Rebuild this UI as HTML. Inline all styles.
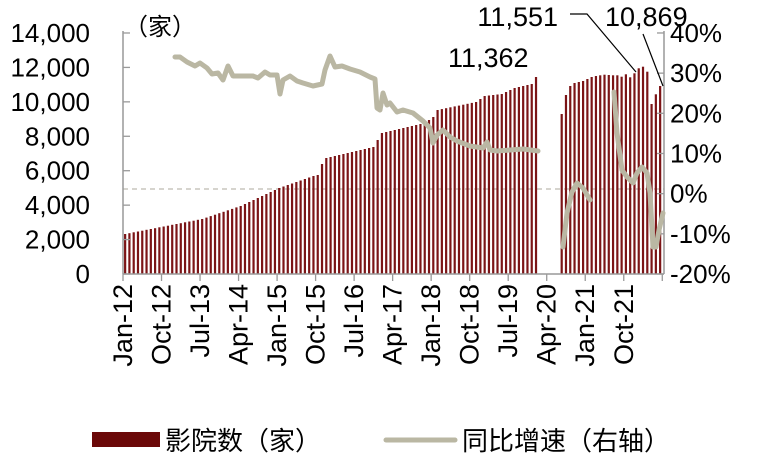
<!DOCTYPE html>
<html><head><meta charset="utf-8"><style>
html,body{margin:0;padding:0;background:#fff;}
svg{display:block;font-family:"Liberation Sans","Noto Sans CJK SC",sans-serif;}
</style></head><body>
<svg id="c" width="765" height="460" xmlns="http://www.w3.org/2000/svg"></svg>
<script>
const s=document.getElementById('c');let h='';
const X0=123,XW=4.28,YB=274;
h+='<line x1="123" y1="189" x2="664" y2="189" stroke="#bdbab0" stroke-width="1.3" stroke-dasharray="5,4"/>';
const kp=[[0,234],[18,219],[27,206],[36,188],[44,176],[45,175],[46,164],[47,158],[58,147],[60,133],[64,129],[70,123],[72,117],[73,110],[82,102],[84,96],[88,94],[91,88],[94,85],[95,84],[96,77]];
function interp(m){for(let i=0;i<kp.length-1;i++){if(m>=kp[i][0]&&m<=kp[i+1][0]){const t=(m-kp[i][0])/(kp[i+1][0]-kp[i][0]);return kp[i][1]+t*(kp[i+1][1]-kp[i][1]);}}return 77;}
const post=[114,95,86,83,82,81,79,77,76,75.3,74.7,75,75.3,75.3,76.7,74.3,77.3,73.3,68.3,66.7,71.7,104,94.3,86];
for(let m=0;m<126;m++){let y;if(m<=96)y=interp(m);else if(m>=102)y=post[m-102];else continue;
const x=X0+XW*(m+0.5)-1.1;h+=`<rect x="${x.toFixed(2)}" y="${y.toFixed(1)}" width="2.2" height="${(YB-y).toFixed(1)}" fill="#7b1416"/>`;}
h+='<line x1="123" y1="31" x2="123" y2="274" stroke="#999" stroke-width="1.5"/>';
h+='<line x1="664" y1="31" x2="664" y2="274" stroke="#999" stroke-width="1.5"/>';
h+='<line x1="123" y1="274" x2="664" y2="274" stroke="#999" stroke-width="1.5"/>';
const ll=['0','2,000','4,000','6,000','8,000','10,000','12,000','14,000'];
for(let i=0;i<8;i++){const y=274-i*34.43;h+=`<line x1="123" y1="${y}" x2="130" y2="${y}" stroke="#999" stroke-width="1.3"/><text x="90" y="${y+9}" font-size="26" text-anchor="end">${ll[i]}</text>`;}
const rl=['-20%','-10%','0%','10%','20%','30%','40%'];
for(let i=0;i<7;i++){const y=274-i*40.17;h+=`<line x1="657" y1="${y}" x2="664" y2="${y}" stroke="#999" stroke-width="1.3"/><text x="670" y="${y+9}" font-size="26">${rl[i]}</text>`;}
const xl=['Jan-12','Oct-12','Jul-13','Apr-14','Jan-15','Oct-15','Jul-16','Apr-17','Jan-18','Oct-18','Jul-19','Apr-20','Jan-21','Oct-21'];
for(let i=0;i<15;i++){const x=X0+i*9*XW;h+=`<line x1="${x}" y1="274" x2="${x}" y2="281" stroke="#999" stroke-width="1.3"/>`;
if(i<14)h+=`<text transform="translate(${x+9},284) rotate(-90)" font-size="27" text-anchor="end">${xl[i]}</text>`;}
const seg1=[[175,57],[180,57],[187,62],[195,66],[200,63],[207,68],[212,74],[218,73],[223,80],[228,66],[233,76],[240,76],[253,76],[258,78],[265,72],[270,75],[277,75],[280,94],[283,80],[290,76],[297,81],[303,83],[313,86],[322,84],[325,70],[330,56],[335,67],[342,66],[350,69],[360,72],[370,77],[375,79],[377,108],[380,110],[383,93],[387,105],[390,103],[397,112],[403,110],[413,113],[423,121],[430,128],[433,143],[437,135],[443,130],[450,137],[457,141],[470,146],[483,148],[487,142],[490,150],[497,151],[510,150],[523,149],[538,151]];
const seg2=[[563,247],[567,213],[572,192],[577,183],[583,188],[590,200]];
const seg3=[[614,92],[617,133],[622,170],[627,177],[633,183],[637,173],[642,167],[647,173],[650,193],[653,247],[656,247],[659,230],[663,213]];
for(const sg of [seg1,seg2,seg3])h+=`<polyline points="${sg.map(p=>p.join(',')).join(' ')}" fill="none" stroke="#bab7a3" stroke-width="5" stroke-linejoin="round" stroke-linecap="round"/>`;
h+='<text x="124" y="35" font-size="24">（家）</text>';
h+='<text x="448" y="67" font-size="27">11,362</text>';
h+='<text x="558" y="26" font-size="27" text-anchor="end">11,551</text>';
h+='<text x="605" y="26" font-size="27">10,869</text>';
h+='<polyline points="570,14 587,14 636,72" fill="none" stroke="#000" stroke-width="1.2"/>';
h+='<line x1="643" y1="34" x2="663" y2="86" stroke="#000" stroke-width="1.2"/>';
h+='<rect x="92" y="432" width="68" height="15" fill="#6b0808"/>';
h+='<text x="165" y="450" font-size="26">影院数（家）</text>';
h+='<line x1="386" y1="440" x2="455" y2="440" stroke="#bab7a3" stroke-width="5" stroke-linecap="round"/>';
h+='<text x="462" y="450" font-size="26">同比增速（右轴）</text>';
s.innerHTML=h;
</script>
</body></html>
